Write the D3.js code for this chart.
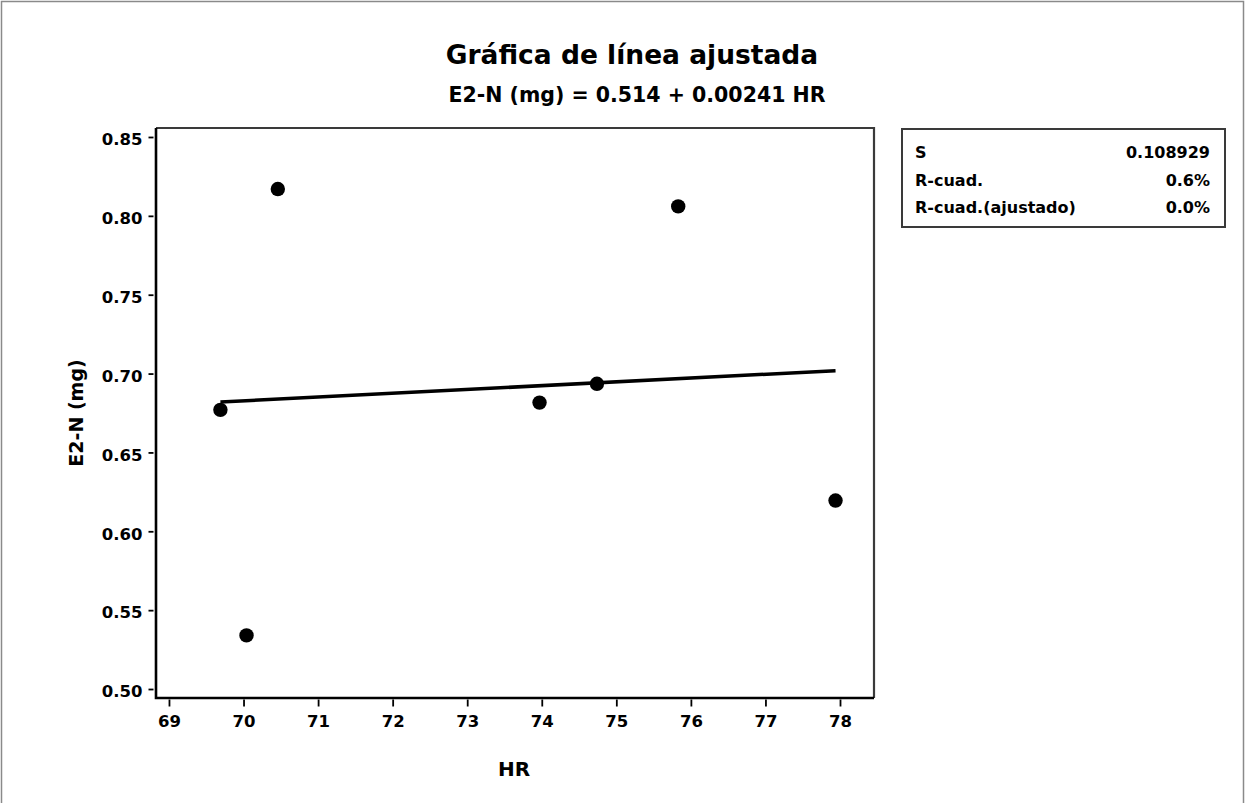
<!DOCTYPE html>
<html>
<head>
<meta charset="utf-8">
<script src="https://cdn.jsdelivr.net/npm/d3@7"></script>
<style>
  html, body { margin: 0; padding: 0; background: #fff; }
  svg { display: block; }
  text { font-family: "DejaVu Sans", "Open Sans", sans-serif; font-weight: bold; fill: #000; }
</style>
</head>
<body>
<svg id="chart" width="1246" height="803"></svg>
<script>
// Observations: relative humidity (HR) vs E2-N (mg)
const hr  = [69.69, 70.04, 70.46, 73.97, 74.74, 75.83, 77.94];
const e2n = [0.677, 0.534, 0.817, 0.6816, 0.6935, 0.806, 0.6195];

// Fitted regression: E2-N = intercept + slope * HR
const intercept = 0.514;
const slope = 0.00241;

const xTicks = [69, 70, 71, 72, 73, 74, 75, 76, 77, 78];
const yTicks = [0.50, 0.55, 0.60, 0.65, 0.70, 0.75, 0.80, 0.85];

const statLabels = ["S", "R-cuad.", "R-cuad.(ajustado)"];
const statValues = ["0.108929", "0.6%", "0.0%"];

const titleText = "Gráfica de línea ajustada";
const subtitleText = "E2-N (mg) = 0.514 + 0.00241 HR";
const xTitle = "HR";
const yTitle = "E2-N (mg)";

// Layout
const W = 1246, H = 803;
const plot = { left: 156, right: 874, top: 128, bottom: 698 };
const FONT = "'DejaVu Sans', sans-serif";

const svg = d3.select("#chart");

// Outer figure border
svg.append("rect")
  .attr("x", 1.5).attr("y", 1.5)
  .attr("width", W - 4).attr("height", H + 10)
  .attr("fill", "none").attr("stroke", "#8a8a8a").attr("stroke-width", 1.5);

const x = d3.scaleLinear().domain([68.826, 78.456]).range([plot.left, plot.right]);
const y = d3.scaleLinear().domain([0.4943, 0.8557]).range([plot.bottom, plot.top]);

// Plot frame: top and right edges
svg.append("path")
  .attr("d", `M${plot.left},${plot.top}H${plot.right}V${plot.bottom}`)
  .attr("fill", "none").attr("stroke", "#3a3a3a").attr("stroke-width", 2.2);

// Axis lines: left and bottom
svg.append("path")
  .attr("d", `M${plot.left},${plot.top}V${plot.bottom}H${plot.right}`)
  .attr("fill", "none").attr("stroke", "#000").attr("stroke-width", 2.6);

// Y axis ticks and labels (ticks sit just outside the axis line)
const yAxis = svg.append("g")
  .attr("transform", `translate(${plot.left - 2.5},0)`)
  .call(d3.axisLeft(y).tickValues(yTicks).tickFormat(d3.format(".2f")).tickSize(5).tickPadding(6));
yAxis.select(".domain").remove();
yAxis.selectAll(".tick line").attr("stroke", "#000").attr("stroke-width", 1.8);
yAxis.selectAll(".tick text")
  .attr("font-size", 16.5).attr("font-weight", "bold")
  .attr("font-family", FONT).attr("fill", "#000").attr("dy", "0.47em");

// X axis ticks and labels
const xAxis = svg.append("g")
  .attr("transform", `translate(0,${plot.bottom + 1.5})`)
  .call(d3.axisBottom(x).tickValues(xTicks).tickFormat(d3.format("d")).tickSize(7).tickPadding(9));
xAxis.select(".domain").remove();
xAxis.selectAll(".tick line").attr("stroke", "#000").attr("stroke-width", 1.8);
xAxis.selectAll(".tick text")
  .attr("font-size", 16.5).attr("font-weight", "bold")
  .attr("font-family", FONT).attr("fill", "#000");

// Fitted line across the observed HR range
const xMin = d3.min(hr), xMax = d3.max(hr);
const fitLine = d3.line().x(d => x(d)).y(d => y(intercept + slope * d));
svg.append("path")
  .datum([xMin, xMax])
  .attr("d", fitLine)
  .attr("fill", "none").attr("stroke", "#000").attr("stroke-width", 3.5);

// Observations
svg.append("g").selectAll("circle")
  .data(hr.map((h, i) => ({ h, v: e2n[i] })))
  .join("circle")
  .attr("cx", d => x(d.h)).attr("cy", d => y(d.v))
  .attr("r", 7.2).attr("fill", "#000");

// Titles
svg.append("text")
  .attr("x", 632).attr("y", 64)
  .attr("text-anchor", "middle")
  .attr("font-size", 26.5)
  .text(titleText);
svg.append("text")
  .attr("x", 637).attr("y", 102)
  .attr("text-anchor", "middle")
  .attr("font-size", 20.5)
  .text(subtitleText);

// Axis titles
svg.append("text")
  .attr("x", 514).attr("y", 776)
  .attr("text-anchor", "middle")
  .attr("font-size", 20)
  .text(xTitle);
svg.append("text")
  .attr("transform", `translate(83,${(plot.top + plot.bottom) / 2}) rotate(-90)`)
  .attr("text-anchor", "middle")
  .attr("font-size", 19)
  .text(yTitle);

// Summary statistics box
const box = { x: 902, y: 129, w: 323, h: 98 };
svg.append("rect")
  .attr("x", box.x).attr("y", box.y).attr("width", box.w).attr("height", box.h)
  .attr("fill", "#fff").attr("stroke", "#3a3a3a").attr("stroke-width", 2);
const rowBase = [158, 186, 213];
const rows = svg.append("g").selectAll("g")
  .data(statLabels.map((l, i) => ({ l, v: statValues[i], yb: rowBase[i] })))
  .join("g");
rows.append("text")
  .attr("x", box.x + 13).attr("y", d => d.yb)
  .attr("font-size", 16)
  .text(d => d.l);
rows.append("text")
  .attr("x", box.x + box.w - 15).attr("y", d => d.yb)
  .attr("text-anchor", "end")
  .attr("font-size", 16)
  .text(d => d.v);
</script>
</body>
</html>
